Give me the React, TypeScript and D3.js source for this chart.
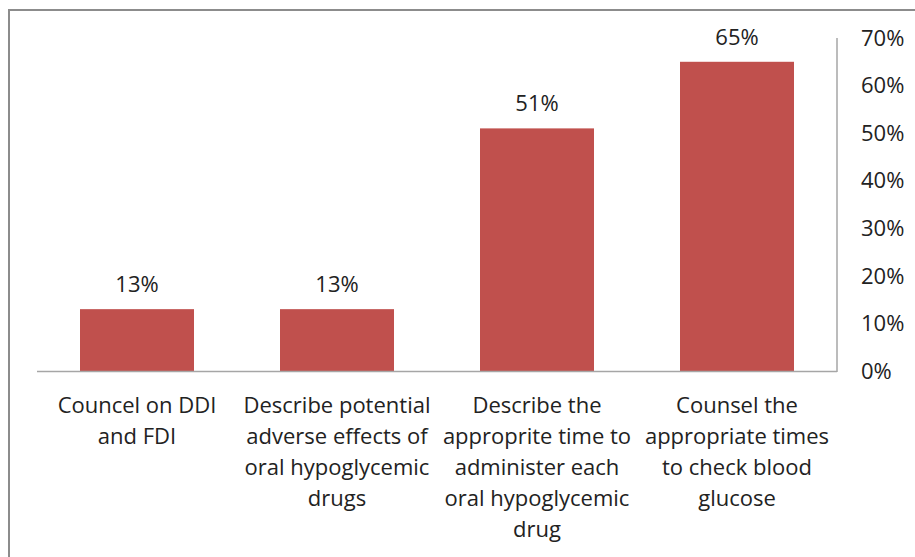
import React from "react";
import * as d3 from "d3";

const categories: string[][] = [
  ["Councel on DDI", "and FDI"],
  ["Describe potential", "adverse effects of", "oral hypoglycemic", "drugs"],
  ["Describe the", "approprite time to", "administer each", "oral hypoglycemic", "drug"],
  ["Counsel the", "appropriate times", "to check blood", "glucose"],
];
const values: number[] = [13, 13, 51, 65];
const ticks: number[] = [0, 10, 20, 30, 40, 50, 60, 70];

const W = 915;
const H = 557;
const FONT = "'Open Sans', sans-serif";
const TEXT = "#222222";
const FS = 22;

export default function App() {
  const keys = categories.map((_, i) => String(i));
  const x = d3.scaleBand<string>().domain(keys).range([37, 837]).paddingInner(0.43).paddingOuter(0.215);
  const y = d3.scaleLinear().domain([0, 70]).range([371, 38]);

  return (
    <div style={{ position: "absolute", left: 0, top: 0 }}>
      <svg width={W} height={H} style={{ display: "block", background: "#fff" }}>
        <rect x={9} y={10} width={1000} height={1000} fill="none" stroke="#8c8c8c" strokeWidth={2} />
        {values.map((v, i) => (
          <rect
            key={i}
            x={x(keys[i])}
            y={y(v)}
            width={x.bandwidth()}
            height={y(0) - y(v)}
            fill="#C0504D"
          />
        ))}
        <line x1={37} x2={837} y1={y(0) + 0.5} y2={y(0) + 0.5} stroke="#a6a6a6" strokeWidth={1.5} />
        <line x1={837} x2={837} y1={y(70)} y2={y(0) + 1} stroke="#a6a6a6" strokeWidth={1.5} />
        {ticks.map((t) => (
          <text key={t} x={861} y={y(t)} dy="0.35em" fontFamily={FONT} fontSize={FS} fill={TEXT}>
            {t}%
          </text>
        ))}
        {values.map((v, i) => (
          <text
            key={i}
            x={(x(keys[i]) as number) + x.bandwidth() / 2}
            y={y(v) - 17}
            textAnchor="middle"
            fontFamily={FONT}
            fontSize={FS}
            fill={TEXT}
          >
            {v}%
          </text>
        ))}
        {categories.map((lines, i) => (
          <text
            key={i}
            x={(x(keys[i]) as number) + x.bandwidth() / 2}
            y={405}
            textAnchor="middle"
            fontFamily={FONT}
            fontSize={FS}
            fill={TEXT}
          >
            {lines.map((ln, j) => (
              <tspan key={j} x={(x(keys[i]) as number) + x.bandwidth() / 2} y={405 + j * 31} dy="0.35em">
                {ln}
              </tspan>
            ))}
          </text>
        ))}
      </svg>
    </div>
  );
}
